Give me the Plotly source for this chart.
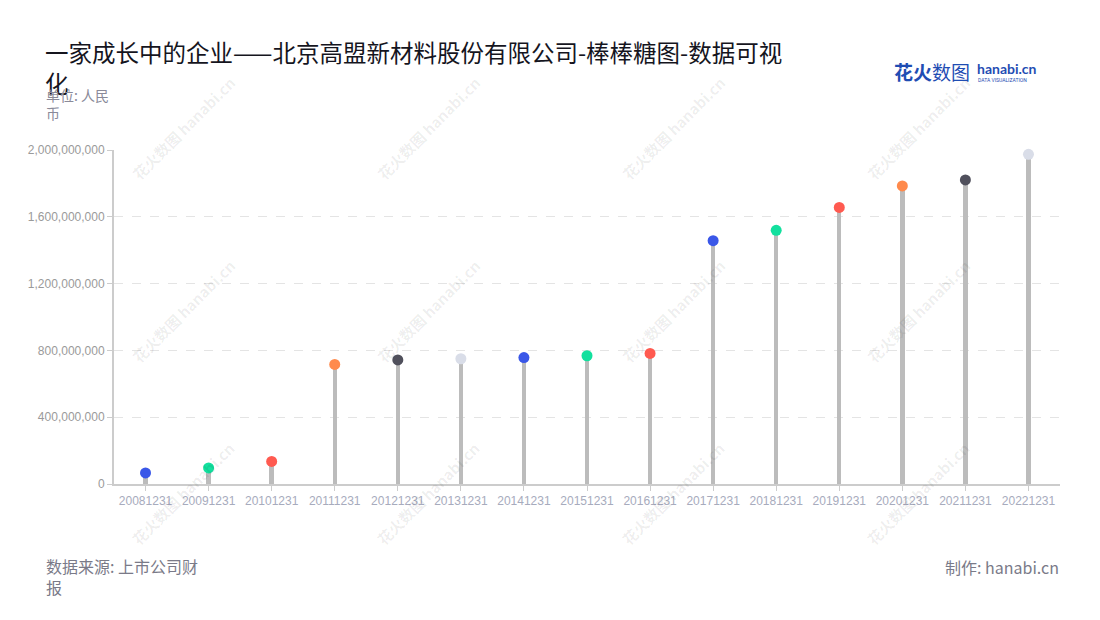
import plotly.graph_objects as go

# ---------------- data ----------------
dates = ["20081231", "20091231", "20101231", "20111231", "20121231", "20131231",
         "20141231", "20151231", "20161231", "20171231", "20181231", "20191231",
         "20201231", "20211231", "20221231"]
values = [66e6, 96e6, 135e6, 716e6, 743e6, 750e6, 757e6, 768e6, 782e6,
          1457e6, 1519e6, 1656e6, 1785e6, 1821e6, 1974e6]
dot_colors = ["#3a57e8", "#12e09e", "#ff5a50", "#ff8a4c", "#50505c", "#d9dde8",
              "#3a57e8", "#12e09e", "#ff5a50", "#3a57e8", "#12e09e", "#ff5a50",
              "#ff8a4c", "#50505c", "#d9dde8"]
y_tickvals = [0, 400e6, 800e6, 1200e6, 1600e6, 2000e6]
y_ticktext = ["0", "400,000,000", "800,000,000", "1,200,000,000", "1,600,000,000", "2,000,000,000"]

title_text = "一家成长中的企业——北京高盟新材料股份有限公司-棒棒糖图-数据可视<br>化"
unit_text = "单位: 人民<br>币"
source_text = "数据来源: 上市公司财<br>报"
maker_text = "制作: hanabi.cn"

# ---------------- geometry helpers ----------------
W, H = 1100, 620
L, R, T, B = 114, 40, 150, 136
PW, PH = W - L - R, H - T - B


def px(x):
    return (x - L) / PW


def py(y):
    return (H - B - y) / PH


CJK = "Noto Sans CJK SC"

fig = go.Figure()

# stems
fig.add_trace(go.Bar(
    x=dates, y=values, width=0.07,
    marker=dict(color="#bcbcbc", line=dict(width=0)),
    hoverinfo="skip", showlegend=False,
))
# candy heads
fig.add_trace(go.Scatter(
    x=dates, y=values, mode="markers",
    marker=dict(size=11, color=dot_colors, line=dict(width=0)),
    cliponaxis=False, showlegend=False,
))

annotations = []

# watermarks
for cx in [183, 428, 673, 918]:
    for cy in [128, 311, 494]:
        annotations.append(dict(
            x=px(cx), y=py(cy), xref="paper", yref="paper",
            text="<b>花火数图</b> <b>hanabi.cn</b>", textangle=-45,
            showarrow=False, xanchor="center", yanchor="middle",
            font=dict(family=CJK, size=15, color="rgba(0,0,0,0.07)"),
        ))

annotations += [
    dict(x=px(43), y=py(33), xref="paper", yref="paper", text=title_text,
         showarrow=False, xanchor="left", yanchor="top", align="left",
         font=dict(family=CJK, size=23.5, color="#15151e")),
    dict(x=px(44), y=py(83), xref="paper", yref="paper", text=unit_text,
         showarrow=False, xanchor="left", yanchor="top", align="left",
         font=dict(family=CJK, size=14, color="#8a8a99")),
    dict(x=px(44), y=py(552), xref="paper", yref="paper", text=source_text,
         showarrow=False, xanchor="left", yanchor="top", align="left",
         font=dict(family=CJK, size=16, color="#7a7a88")),
    dict(x=px(1061), y=py(567), xref="paper", yref="paper", text=maker_text,
         showarrow=False, xanchor="right", yanchor="middle", align="right",
         font=dict(family=CJK, size=16, color="#7a7a88")),
    # logo
    dict(x=px(892), y=py(71), xref="paper", yref="paper", text="<b>花火</b>数图",
         showarrow=False, xanchor="left", yanchor="middle",
         font=dict(family=CJK, size=19, color="#1f4db3")),
    dict(x=px(975), y=py(69), xref="paper", yref="paper", text="<b>hanabi.cn</b>",
         showarrow=False, xanchor="left", yanchor="middle",
         font=dict(family="Lato", size=14, color="#1f4db3")),
    dict(x=px(976), y=py(80), xref="paper", yref="paper", text="DATA VISUALIZATION",
         showarrow=False, xanchor="left", yanchor="middle",
         font=dict(family="Roboto", size=5, color="#1f4db3")),
]

fig.update_layout(
    width=W, height=H,
    margin=dict(l=L, r=R, t=T, b=B, pad=0),
    paper_bgcolor="white", plot_bgcolor="white",
    bargap=0, showlegend=False,
    annotations=annotations,
    xaxis=dict(
        type="category", range=[-0.5, len(dates) - 0.5],
        showgrid=False, zeroline=False,
        showline=True, linecolor="#cccccc", linewidth=2,
        ticks="outside", ticklen=5, tickcolor="#cccccc", tickwidth=1,
        tickfont=dict(family="Liberation Sans", size=12, color="#a7abbd"),
        fixedrange=True,
    ),
    yaxis=dict(
        range=[0, 2000e6],
        tickvals=y_tickvals, ticktext=y_ticktext,
        showgrid=True, gridcolor="#e4e4e4", griddash="dash", gridwidth=1,
        zeroline=False,
        showline=True, linecolor="#cccccc", linewidth=2,
        ticks="outside", ticklen=5, tickcolor="#cccccc", tickwidth=1,
        tickfont=dict(family="Liberation Sans", size=12, color="#9a9a9a"),
        fixedrange=True,
    ),
)

fig.write_html("out.html", config={"displayModeBar": False},
               post_script="document.body.style.margin='0';")
